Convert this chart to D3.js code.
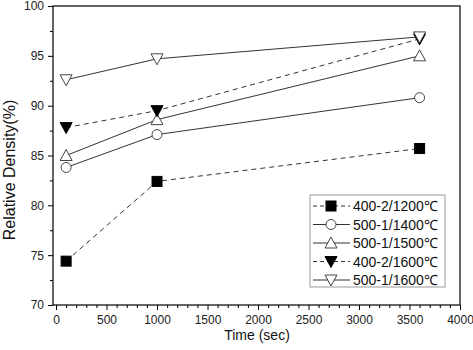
<!DOCTYPE html>
<html><head><meta charset="utf-8">
<script src="https://cdn.jsdelivr.net/npm/d3@7/dist/d3.min.js"></script>
<style>body{margin:0;background:#fff}svg{display:block}text{font-family:Arial,"Liberation Sans",sans-serif}</style>
</head><body>
<script>
const times = [100, 1000, 3600];
const seriesNames = ["400-2/1200\u2103","500-1/1400\u2103","500-1/1500\u2103","400-2/1600\u2103","500-1/1600\u2103"];
const s1200 = [74.4, 82.4, 85.7];
const s1400 = [83.8, 87.1, 90.8];
const s1500 = [85.0, 88.6, 95.0];
const s1600a = [87.8, 89.5, 96.7];
const s1600b = [92.6, 94.7, 96.9];
const xTicks = [0,500,1000,1500,2000,2500,3000,3500,4000];
const yTicks = [70,75,80,85,90,95,100];

const series = [
 {name:seriesNames[0], v:s1200, sym:"square", fill:true, dash:true},
 {name:seriesNames[1], v:s1400, sym:"circle", fill:false, dash:false},
 {name:seriesNames[2], v:s1500, sym:"up", fill:false, dash:false},
 {name:seriesNames[3], v:s1600a, sym:"down", fill:true, dash:true},
 {name:seriesNames[4], v:s1600b, sym:"down", fill:false, dash:false}
];

const W=473,H=350, L=53, R=460, T=6, B=305;
const svg=d3.select("body").append("svg").attr("width",W).attr("height",H);
const x=d3.scaleLinear().domain([-30,4000]).range([L,R]);
const y=d3.scaleLinear().domain([70,100]).range([B,T]);

svg.append("rect").attr("x",L).attr("y",T).attr("width",R-L).attr("height",B-T).attr("fill","none").attr("stroke","#000").attr("stroke-width",1.2);

const xa=svg.append("g").attr("transform",`translate(0,${B})`).call(d3.axisBottom(x).tickValues(xTicks).tickSize(5).tickPadding(5).tickFormat(d3.format("d")));
xa.select(".domain").remove();
const xm=svg.append("g").attr("transform",`translate(0,${B})`).call(d3.axisBottom(x).tickValues(d3.range(0,4001,100).filter(d=>d%500)).tickSize(3).tickFormat(""));
xm.select(".domain").remove();
const ya=svg.append("g").attr("transform",`translate(${L},0)`).call(d3.axisLeft(y).tickValues(yTicks).tickSize(5).tickPadding(4));
ya.select(".domain").remove();
const ym=svg.append("g").attr("transform",`translate(${L},0)`).call(d3.axisLeft(y).tickValues(d3.range(72.5,100,5)).tickSize(3).tickFormat(""));
ym.select(".domain").remove();
svg.selectAll(".tick text").attr("font-size",12).attr("fill","#222").attr("font-family","Arial, 'Liberation Sans', sans-serif");
svg.selectAll(".tick line").attr("stroke","#000");

svg.append("text").attr("x",257).attr("y",340).attr("text-anchor","middle").attr("font-size",14).attr("fill","#111").text("Time (sec)");
svg.append("text").attr("transform",`translate(15,170) rotate(-90)`).attr("text-anchor","middle").attr("font-size",16).attr("fill","#111").text("Relative Density(%)");

function sym(g,s,cx,cy){
  const fill=s.fill?"#000":"#fff";
  if(s.sym==="square") g.append("rect").attr("x",cx-5).attr("y",cy-5).attr("width",10).attr("height",10).attr("fill",fill).attr("stroke","#000");
  else if(s.sym==="circle") g.append("circle").attr("cx",cx).attr("cy",cy).attr("r",5).attr("fill",fill).attr("stroke","#444");
  else if(s.sym==="up") g.append("path").attr("d",`M${cx},${cy-6}L${cx+6},${cy+5}L${cx-6},${cy+5}Z`).attr("fill",fill).attr("stroke","#444");
  else g.append("path").attr("d",`M${cx-6},${cy-5}L${cx+6},${cy-5}L${cx},${cy+6}Z`).attr("fill",fill).attr("stroke",s.fill?"#000":"#444");
}

const line=d3.line().x((d,i)=>x(times[i])).y(d=>y(d));
series.forEach(s=>{
  svg.append("path").attr("d",line(s.v)).attr("fill","none").attr("stroke","#333").attr("stroke-width",1).attr("stroke-dasharray",s.dash?"5,4":null);
});
series.forEach(s=>{
  const g=svg.append("g");
  s.v.forEach((v,i)=>sym(g,s,x(times[i]),y(v)));
});

const lg=svg.append("g");
lg.append("rect").attr("x",310).attr("y",195).attr("width",135).attr("height",92).attr("fill","#fff").attr("stroke","#999");
series.forEach((s,i)=>{
  const cy=206+i*18.5;
  lg.append("line").attr("x1",313).attr("x2",350).attr("y1",cy).attr("y2",cy).attr("stroke","#333").attr("stroke-dasharray",s.dash?"4,3":null);
  sym(lg,s,331,cy);
  lg.append("text").attr("x",353).attr("y",cy+5).attr("font-size",14).attr("fill","#111").text(s.name);
});
</script>
</body></html>
